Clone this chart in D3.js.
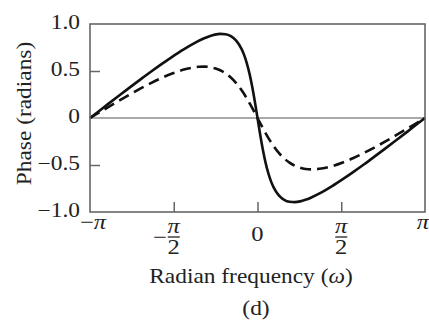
<!DOCTYPE html>
<html>
<head>
<meta charset="utf-8">
<script src="https://cdn.jsdelivr.net/npm/d3@7"></script>
<style>
  html, body { margin: 0; padding: 0; background: #fff; }
  svg { display: block; }
  text { font-family: "Liberation Serif", "Times New Roman", serif; fill: #222; }
</style>
</head>
<body>
<svg id="chart" width="429" height="322"></svg>
<script>
// ---- data ----
const omegaSolid = [-3.1416,-3.0,-2.8,-2.6,-2.4,-2.2,-2.0,-1.8,-1.6,-1.4,-1.2,-1.0,-0.9,-0.8,-0.7,-0.6,-0.5,-0.4,-0.3,-0.25,-0.2,-0.15,-0.1,-0.05,0,
  0.05,0.1,0.15,0.2,0.25,0.3,0.4,0.5,0.6,0.7,0.8,0.9,1.0,1.2,1.4,1.6,1.8,2.0,2.2,2.4,2.6,2.8,3.0,3.1416];
const phaseSolid = [0,0.062,0.150,0.237,0.323,0.408,0.492,0.573,0.651,0.725,0.792,0.848,0.870,0.887,0.895,0.891,0.870,0.823,0.735,0.669,0.582,0.472,0.335,0.175,0,
  -0.175,-0.335,-0.472,-0.582,-0.669,-0.735,-0.823,-0.870,-0.891,-0.895,-0.887,-0.870,-0.848,-0.792,-0.725,-0.651,-0.573,-0.492,-0.408,-0.323,-0.237,-0.150,-0.062,0];

const omegaDashed = [-3.1416,-3.0,-2.8,-2.6,-2.4,-2.2,-2.0,-1.8,-1.6,-1.4,-1.2,-1.1,-1.0,-0.9,-0.8,-0.7,-0.6,-0.5,-0.4,-0.3,-0.2,-0.1,0,
  0.1,0.2,0.3,0.4,0.5,0.6,0.7,0.8,0.9,1.0,1.1,1.2,1.4,1.6,1.8,2.0,2.2,2.4,2.6,2.8,3.0,3.1416];
const phaseDashed = [0,0.048,0.116,0.183,0.249,0.312,0.371,0.426,0.473,0.512,0.538,0.545,0.547,0.542,0.529,0.508,0.475,0.430,0.371,0.297,0.208,0.107,0,
  -0.107,-0.208,-0.297,-0.371,-0.430,-0.475,-0.508,-0.529,-0.542,-0.547,-0.545,-0.538,-0.512,-0.473,-0.426,-0.371,-0.312,-0.249,-0.183,-0.116,-0.048,0];

const yTickValues = [1.0, 0.5, 0, -0.5, -1.0];
const yTickLabels = ["1.0", "0.5", "0", "\u22120.5", "\u22121.0"];
const xTickValues = [-Math.PI, -Math.PI / 2, 0, Math.PI / 2, Math.PI];
const xTickLabels = ["\u2212\u03c0", "\u2212\u03c0/2", "0", "\u03c0/2", "\u03c0"];

const yAxisTitle = "Phase (radians)";
const xAxisTitle = "Radian frequency (";
const xAxisSymbol = "\u03c9";
const caption = "(d)";

// ---- layout ----
const svg = d3.select("#chart");
const mLeft = 90, mRight = 425, mTop = 24, mBottom = 212;
const sx = 1.17; // horizontal stretch of the typeface

const x = d3.scaleLinear().domain([-Math.PI, Math.PI]).range([mLeft, mRight]);
const y = d3.scaleLinear().domain([-1, 1]).range([mBottom, mTop]);

svg.append("rect").attr("width", 429).attr("height", 322).attr("fill", "#fff");

// zero line
svg.append("line")
  .attr("x1", x(-Math.PI)).attr("x2", x(Math.PI))
  .attr("y1", y(0)).attr("y2", y(0))
  .attr("stroke", "#555").attr("stroke-width", 1.2);

// inward ticks
const yAx = svg.append("g").attr("transform", `translate(${mLeft},0)`)
  .call(d3.axisLeft(y).tickValues([0.5, -0.5]).tickSize(-10).tickFormat(""));
const xAx = svg.append("g").attr("transform", `translate(0,${mBottom})`)
  .call(d3.axisBottom(x).tickValues([-Math.PI / 2, 0, Math.PI / 2]).tickSize(-10).tickFormat(""));
[yAx, xAx].forEach(g => {
  g.select(".domain").remove();
  g.selectAll(".tick line").attr("stroke", "#666").attr("stroke-width", 1.5);
});

// curves
const line = d3.line().x(d => x(d[0])).y(d => y(d[1])).curve(d3.curveMonotoneX);
svg.append("path")
  .datum(omegaDashed.map((w, i) => [w, phaseDashed[i]]))
  .attr("d", line).attr("fill", "none").attr("stroke", "#111")
  .attr("stroke-width", 2.6).attr("stroke-dasharray", "11,6");
svg.append("path")
  .datum(omegaSolid.map((w, i) => [w, phaseSolid[i]]))
  .attr("d", line).attr("fill", "none").attr("stroke", "#111")
  .attr("stroke-width", 2.6);

// frame
svg.append("rect")
  .attr("x", mLeft).attr("y", mTop).attr("width", mRight - mLeft).attr("height", mBottom - mTop)
  .attr("fill", "none").attr("stroke", "#666").attr("stroke-width", 1.6);

// y tick labels
yTickValues.forEach((v, i) => {
  svg.append("text")
    .attr("transform", `translate(80,${y(v) + 5}) scale(${sx},1)`)
    .attr("text-anchor", "end").attr("font-size", 20)
    .text(yTickLabels[i]);
});

// x tick labels
xTickValues.forEach((v, i) => {
  const lab = xTickLabels[i];
  let cx = x(v);
  if (lab.includes("/")) {
    const neg = lab.startsWith("\u2212");
    const g = svg.append("g");
    g.append("text")
      .attr("transform", `translate(${cx},233) scale(${sx},1)`)
      .attr("text-anchor", "middle").attr("font-size", 21).attr("font-style", "italic")
      .text("\u03c0");
    g.append("line")
      .attr("x1", cx - 6).attr("x2", cx + 6).attr("y1", 237).attr("y2", 237)
      .attr("stroke", "#222").attr("stroke-width", 1.3);
    g.append("text")
      .attr("transform", `translate(${cx},254) scale(${sx},1)`)
      .attr("text-anchor", "middle").attr("font-size", 21)
      .text("2");
    if (neg) {
      g.append("text")
        .attr("transform", `translate(${cx - 7},244) scale(${sx},1)`)
        .attr("text-anchor", "end").attr("font-size", 21)
        .text("\u2212");
    }
  } else if (lab === "0") {
    svg.append("text")
      .attr("transform", `translate(${cx},241) scale(${sx},1)`)
      .attr("text-anchor", "middle").attr("font-size", 21)
      .text(lab);
  } else {
    cx += v > 0 ? -2 : 3;
    const t = svg.append("text")
      .attr("transform", `translate(${cx},229) scale(${sx},1)`)
      .attr("text-anchor", "middle").attr("font-size", 21);
    if (lab.startsWith("\u2212")) {
      t.append("tspan").text("\u2212");
      t.append("tspan").attr("font-style", "italic").text("\u03c0");
    } else {
      t.append("tspan").attr("font-style", "italic").text(lab);
    }
  }
});

// axis titles
svg.append("text")
  .attr("transform", `translate(31,113.5) rotate(-90) scale(${sx},1)`)
  .attr("text-anchor", "middle").attr("font-size", 20)
  .text(yAxisTitle);

const xt = svg.append("text")
  .attr("transform", `translate(251,283) scale(${sx},1)`)
  .attr("text-anchor", "middle").attr("font-size", 20);
xt.append("tspan").text(xAxisTitle);
xt.append("tspan").attr("font-style", "italic").text(xAxisSymbol);
xt.append("tspan").text(")");

svg.append("text")
  .attr("transform", `translate(256,315) scale(${sx},1)`)
  .attr("text-anchor", "middle").attr("font-size", 20)
  .text(caption);
</script>
</body>
</html>
